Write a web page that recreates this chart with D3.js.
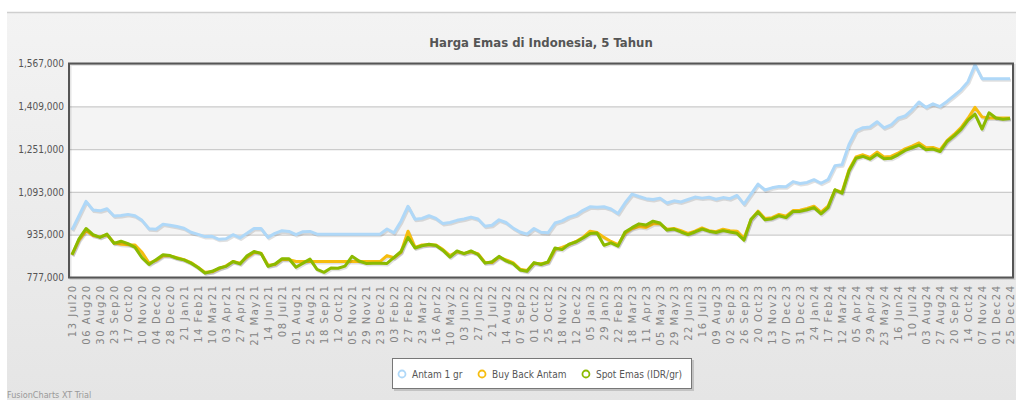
<!DOCTYPE html>
<html>
<head>
<meta charset="utf-8">
<script src="https://cdn.jsdelivr.net/npm/d3@7"></script>
<style>
  body { margin: 0; background: #fff; }
  svg { display: block; }
</style>
</head>
<body>
<div id="chart"></div>
<script>
// Harga dalam ribu rupiah, satu titik kira-kira tiap 12 hari
const tickLabels = ["13 Jul20","06 Aug20","30 Aug20","23 Sep20","17 Oct20","10 Nov20","04 Dec20","28 Dec20",
  "21 Jan21","14 Feb21","10 Mar21","03 Apr21","27 Apr21","21 May21","14 Jun21","08 Jul21","01 Aug21","25 Aug21",
  "18 Sep21","12 Oct21","05 Nov21","29 Nov21","23 Dec21","03 Feb22","27 Feb22","23 Mar22","16 Apr22","10 May22",
  "03 Jun22","27 Jun22","21 Jul22","14 Aug22","07 Sep22","01 Oct22","25 Oct22","18 Nov22","12 Dec22","05 Jan23",
  "29 Jan23","22 Feb23","18 Mar23","11 Apr23","05 May23","29 May23","22 Jun23","16 Jul23","09 Aug23","02 Sep23",
  "26 Sep23","20 Oct23","13 Nov23","07 Dec23","31 Dec23","24 Jan24","17 Feb24","12 Mar24","05 Apr24","29 Apr24",
  "23 May24","16 Jun24","10 Jul24","03 Aug24","27 Aug24","20 Sep24","14 Oct24","07 Nov24","01 Dec24","25 Dec24"];

const antam = [
  953, 1005, 1058, 1026, 1023, 1031, 1004, 1006, 1010, 1005,
  988, 957, 955, 974, 970, 965, 959, 944, 936, 928,
  929, 918, 920, 935, 923, 940, 958, 958, 925, 940,
  950, 947, 935, 946, 947, 937, 937, 937, 937, 937,
  937, 937, 937, 937, 937, 956, 942, 985, 1040, 992,
  995, 1005, 995, 976, 980, 988, 993, 1000, 993, 966,
  970, 990, 980, 960, 945, 937, 958, 944, 942, 978,
  986, 1000, 1008, 1025, 1038, 1036, 1038, 1030, 1013, 1052,
  1085, 1076, 1068, 1065, 1070, 1052, 1060, 1056, 1065, 1074,
  1070, 1073, 1066, 1072, 1068, 1080, 1048, 1085, 1122, 1100,
  1108, 1113, 1112, 1131, 1124, 1128, 1138, 1125, 1138, 1190,
  1193, 1268, 1318, 1330, 1333, 1352, 1329, 1340, 1365, 1373,
  1396, 1425, 1405, 1418, 1408, 1427, 1448, 1470, 1500, 1562,
  1511, 1511, 1511, 1511, 1511];

const buyBack = [
  861, 915, 950, 932, 927, 935, 905, 900, 898, 897,
  870, 830, 840, 857, 857, 850, 843, 832, 815, 796,
  798, 810, 820, 836, 830, 852, 870, 867, 822, 825,
  844, 843, 836, 836, 836, 836, 836, 836, 836, 836,
  836, 836, 836, 836, 836, 858, 850, 870, 948, 888,
  897, 898, 897, 880, 858, 872, 866, 872, 865, 833,
  832, 852, 842, 832, 808, 803, 830, 828, 832, 880,
  888, 898, 910, 925, 948, 943, 925, 910, 898, 940,
  958, 965, 962, 975, 975, 955, 958, 950, 940, 948,
  960, 950, 946, 955, 950, 948, 922, 990, 1022, 995,
  998, 1010, 1003, 1024, 1025, 1032, 1040, 1018, 1040, 1100,
  1092, 1175, 1222, 1230, 1220, 1240, 1222, 1224, 1236, 1252,
  1262, 1274, 1256, 1257, 1248, 1282, 1305, 1330, 1365, 1405,
  1370, 1366, 1366, 1366, 1366];

const spotEmas = [
  861, 920, 958, 935, 925, 937, 903, 911, 902, 888,
  850, 825, 843, 861, 858, 848, 842, 830, 814, 793,
  800, 812, 818, 836, 827, 857, 873, 866, 818, 827,
  846, 846, 815, 830, 845, 807, 796, 812, 811, 819,
  855, 838, 829, 830, 830, 829, 851, 873, 925, 886,
  894, 900, 895, 877, 852, 875, 865, 875, 862, 830,
  835, 855, 838, 828, 805, 800, 832, 825, 835, 886,
  880, 900, 908, 923, 939, 941, 896, 905, 893, 945,
  961, 975, 971, 985, 978, 952, 956, 945, 935, 945,
  956, 948, 943, 950, 945, 940, 915, 992, 1019, 990,
  994, 1005, 998, 1021, 1021, 1027, 1035, 1012, 1035, 1101,
  1088, 1170, 1217, 1224, 1214, 1232, 1215, 1217, 1230, 1246,
  1256, 1266, 1249, 1251, 1242, 1279, 1300, 1324, 1358, 1380,
  1325, 1385, 1366, 1361, 1364];

const yTicks = [777, 935, 1093, 1251, 1409, 1567];

const seriesNames = ["Antam 1 gr", "Buy Back Antam", "Spot Emas (IDR/gr)"];
const seriesColors = ["#afd8f8", "#f6bd0f", "#8bba00"];

const width = 1016;
const height = 400;
const plotLeft = 69, plotRight = 1013, plotTop = 63.5, plotBottom = 277.5;
const font = "'DejaVu Sans Condensed', 'DejaVu Sans', sans-serif";

const svg = d3.select("#chart")
    .append("svg")
    .attr("width", width)
    .attr("height", height);

// background gradient
const defs = svg.append("defs");
const grad = defs.append("linearGradient")
    .attr("id", "bg")
    .attr("x1", 0).attr("y1", 0).attr("x2", 0).attr("y2", 1);
grad.append("stop").attr("offset", "0%").attr("stop-color", "#f3f3f3");
grad.append("stop").attr("offset", "100%").attr("stop-color", "#e5e5e5");

svg.append("rect")
    .attr("x", 7).attr("y", 12)
    .attr("width", width - 7).attr("height", height - 12)
    .attr("fill", "url(#bg)");
svg.append("line")
    .attr("x1", 7).attr("x2", width)
    .attr("y1", 12.5).attr("y2", 12.5)
    .attr("stroke", "#cfcfcf")
    .attr("stroke-width", 1.5);

// Title
svg.append("text")
    .attr("x", (plotLeft + plotRight) / 2)
    .attr("y", 47)
    .attr("text-anchor", "middle")
    .style("font-family", font)
    .style("font-size", "13px")
    .style("font-weight", "bold")
    .style("fill", "#555")
    .text("Harga Emas di Indonesia, 5 Tahun");

// Scales
const x = d3.scaleLinear()
    .domain([0, antam.length - 1])
    .range([72, 1010]);

const y = d3.scaleLinear()
    .domain([yTicks[0], yTicks[yTicks.length - 1]])
    .range([plotBottom, plotTop]);

// plot background + alternating bands
svg.append("rect")
    .attr("x", plotLeft).attr("y", plotTop)
    .attr("width", plotRight - plotLeft).attr("height", plotBottom - plotTop)
    .attr("fill", "#fff");

svg.append("g")
    .selectAll("rect")
    .data(d3.pairs(yTicks).filter((d, i) => i % 2 === 1))
    .enter()
    .append("rect")
    .attr("x", plotLeft)
    .attr("width", plotRight - plotLeft)
    .attr("y", d => y(d[1]))
    .attr("height", d => y(d[0]) - y(d[1]))
    .attr("fill", "#f4f4f4");

// grid lines
const grid = svg.append("g")
    .attr("transform", `translate(${plotLeft},0)`)
    .call(d3.axisLeft(y).tickValues(yTicks).tickSize(-(plotRight - plotLeft)).tickFormat(""));
grid.select(".domain").remove();
grid.selectAll("line").attr("stroke", "#cccccc").attr("stroke-width", 1.2);

// y labels
const yAxis = svg.append("g")
    .attr("transform", `translate(${plotLeft - 5},0)`)
    .call(d3.axisLeft(y).tickValues(yTicks).tickSize(0).tickPadding(0)
        .tickFormat(d => d3.format(",")(d * 1000)));
yAxis.select(".domain").remove();
yAxis.selectAll("text")
    .style("font-family", font)
    .style("font-size", "10px")
    .style("fill", "#555");

// x labels
const xAxis = svg.append("g")
    .attr("transform", `translate(0,${plotBottom})`)
    .call(d3.axisBottom(x).tickValues(d3.range(0, antam.length, 2)).tickSize(0)
        .tickFormat(i => tickLabels[i / 2]));
xAxis.select(".domain").remove();
xAxis.selectAll("text")
    .attr("transform", "rotate(-90)")
    .attr("x", -7)
    .attr("y", 0)
    .attr("dy", "0.35em")
    .attr("text-anchor", "end")
    .style("font-family", "'DejaVu Sans', sans-serif")
    .style("font-size", "10px")
    .style("letter-spacing", "1.5px")
    .style("fill", "#858585");

// lines
const line = d3.line()
    .x((d, i) => x(i))
    .y(d => y(d));

const allSeries = [antam, buyBack, spotEmas];
const lines = svg.append("g");
allSeries.forEach((s, k) => {
    lines.append("path")
        .datum(s)
        .attr("d", line)
        .attr("transform", "translate(1,1.5)")
        .attr("fill", "none")
        .attr("stroke", "#000")
        .attr("stroke-opacity", 0.12)
        .attr("stroke-width", 3)
        .attr("stroke-linejoin", "round");
    lines.append("path")
        .datum(s)
        .attr("d", line)
        .attr("fill", "none")
        .attr("stroke", seriesColors[k])
        .attr("stroke-width", 3)
        .attr("stroke-linejoin", "round");
});

// plot border
svg.append("rect")
    .attr("x", plotLeft + 1.5).attr("y", plotTop + 1.5)
    .attr("width", plotRight - plotLeft).attr("height", plotBottom - plotTop)
    .attr("fill", "none")
    .attr("stroke", "#000")
    .attr("stroke-opacity", 0.1)
    .attr("stroke-width", 2);
svg.append("rect")
    .attr("x", plotLeft).attr("y", plotTop)
    .attr("width", plotRight - plotLeft).attr("height", plotBottom - plotTop)
    .attr("fill", "none")
    .attr("stroke", "#555")
    .attr("stroke-width", 2);

// Legend
const legend = svg.append("g").attr("id", "legend");
legend.append("rect")
    .attr("x", 394).attr("y", 360)
    .attr("width", 300).attr("height", 31)
    .attr("fill", "#000").attr("fill-opacity", 0.15);
legend.append("rect")
    .attr("x", 392.5).attr("y", 358.5)
    .attr("width", 299).attr("height", 30)
    .attr("fill", "#fff")
    .attr("stroke", "#777");

let cursor = 402;
seriesNames.forEach((name, k) => {
    legend.append("circle")
        .attr("cx", cursor).attr("cy", 374)
        .attr("r", 3.5)
        .attr("fill", "#fff")
        .attr("stroke", seriesColors[k])
        .attr("stroke-width", 1.8);
    const t = legend.append("text")
        .attr("x", cursor + 10).attr("y", 374)
        .attr("dy", "0.35em")
        .style("font-family", font)
        .style("font-size", "10px")
        .style("fill", "#555")
        .text(name);
    cursor += 10 + t.node().getComputedTextLength() + 19.5;
});

// watermark
svg.append("text")
    .attr("x", 7).attr("y", 398)
    .style("font-family", font)
    .style("font-size", "9px")
    .style("fill", "#999")
    .text("FusionCharts XT Trial");
</script>
</body>
</html>
